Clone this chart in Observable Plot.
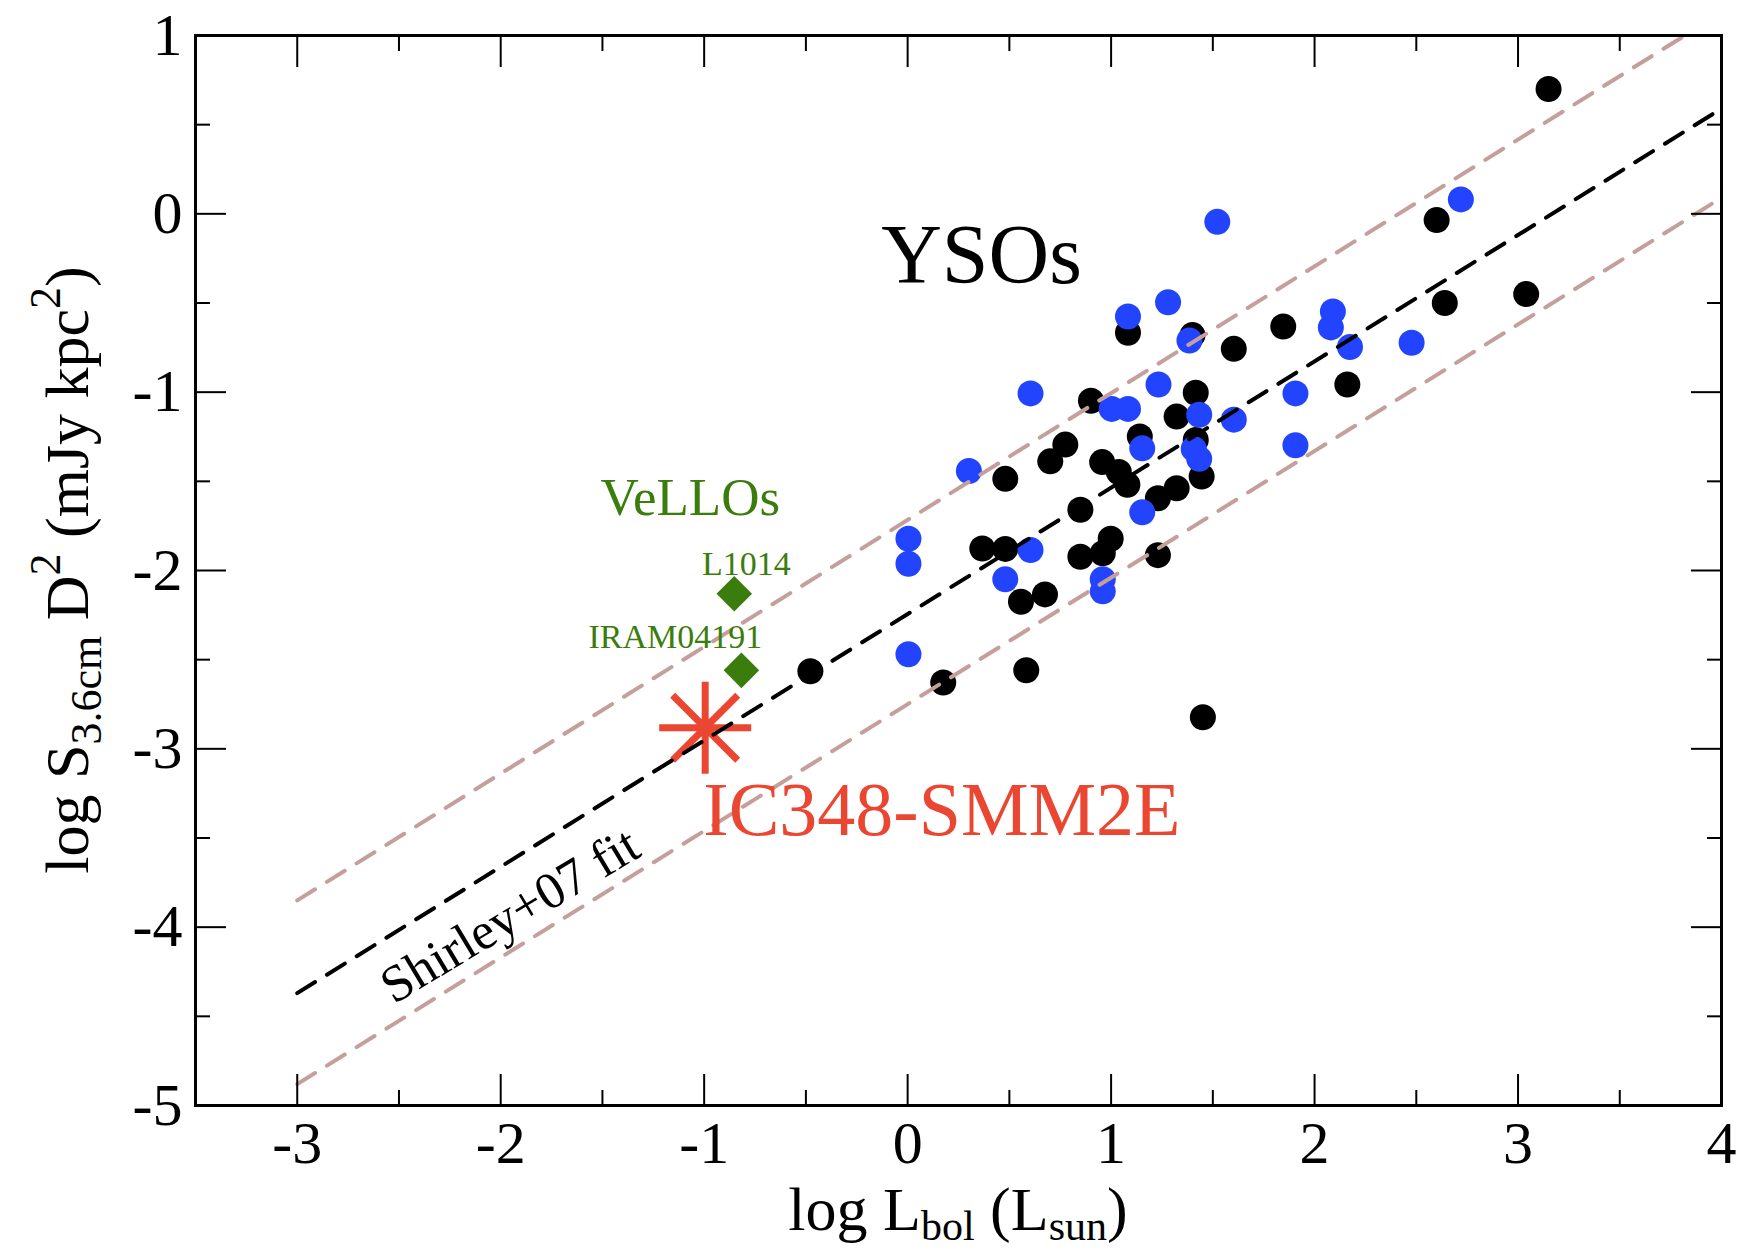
<!DOCTYPE html>
<html>
<head>
<meta charset="utf-8">
<script src="https://cdn.jsdelivr.net/npm/d3@7"></script>
<script src="https://cdn.jsdelivr.net/npm/@observablehq/plot@0.6"></script>
<style>
  html, body { margin: 0; padding: 0; background: #ffffff; }
  #chart svg { display: block; }
</style>
</head>
<body>
<div id="chart"></div>
<script>
// ---- axes ----
const xDomain = [-3.5, 4];
const yDomain = [-5, 1];
const xTicks = [-3, -2, -1, 0, 1, 2, 3, 4];
const xMinorTicks = [-2.5, -1.5, -0.5, 0.5, 1.5, 2.5, 3.5];
const yTicks = [-5, -4, -3, -2, -1, 0, 1];
const yMinorTicks = [-4.5, -3.5, -2.5, -1.5, -0.5, 0.5];

// ---- YSOs (black set) ----
const blackLogL = [3.15, 2.60, 2.64, 3.04, 1.846, 1.603, 1.083, 1.40, 2.161, 1.416, 0.901, 1.322,
  1.141, 1.416, 0.775, 0.701, 0.956, 1.038, 1.080, 0.480, 1.445, 1.322, 1.230, 0.849,
  0.367, 0.480, 0.998, 0.959, 0.849, 1.230, 0.557, 0.675, 0.583, 0.175, 1.451, -0.478];
const blackLogS = [0.70, -0.035, -0.50, -0.45, -0.632, -0.757, -0.667, -0.68, -0.957, -1.003, -1.048, -1.137,
  -1.248, -1.268, -1.294, -1.388, -1.392, -1.448, -1.519, -1.486, -1.473, -1.539, -1.595, -1.659,
  -1.877, -1.879, -1.822, -1.903, -1.923, -1.914, -2.175, -2.134, -2.559, -2.628, -2.823, -2.565];

// ---- YSOs (blue set) ----
const blueLogL = [1.522, 2.719, 1.280, 1.083, 1.385, 2.090, 2.080, 2.174, 2.477, 0.604, 1.233, 1.003,
  1.083, 1.906, 1.433, 1.603, 1.153, 1.406, 1.433, 1.906, 0.301, 1.153, 0.004, 0.004,
  0.604, 0.480, 0.959, 0.959, 0.004];
const blueLogS = [-0.045, 0.081, -0.496, -0.576, -0.71, -0.547, -0.637, -0.747, -0.723, -1.007, -0.957, -1.094,
  -1.094, -1.007, -1.127, -1.154, -1.315, -1.318, -1.374, -1.298, -1.442, -1.673, -1.822, -1.962,
  -1.885, -2.049, -2.049, -2.117, -2.47];

// ---- VeLLOs ----
const velloNames = ["L1014", "IRAM04191"];
const velloLogL = [-0.852, -0.817];
const velloLogS = [-2.13, -2.56];

// ---- IC348-SMM2E ----
const smmLogL = [-0.995];
const smmLogS = [-2.882];

// ---- Shirley+07 fit and its +/- scatter lines ----
const fitLogL = [-3, 4];
const fitLogS = [-4.37, 0.59];
const upperLogL = [-3, 3.82];
const upperLogS = [-3.85, 1];
const lowerLogL = [-3, 4];
const lowerLogS = [-4.88, 0.09];

// ---- annotation texts (data coordinates) ----
const labelYSO = [{text: "YSOs", x: 0.363, y: -0.386}];
const labelVello = [{text: "VeLLOs", x: -1.068, y: -1.691}];
const labelVelloNames = [
  {text: velloNames[0], x: -0.793, y: -2.028},
  {text: velloNames[1], x: -1.142, y: -2.437}
];
const labelSMM = [{text: "IC348-SMM2E", x: -1.004, y: -3.484}];
const labelFit = [{text: "Shirley+07 fit", x: -1.955, y: -3.935}];

const RED = "#ea4631";
const GREEN = "#3b7d0d";
const BLUE = "#2244ff";
const BROWN = "#c49f9c";
const SERIF = "'Liberation Serif', 'Times New Roman', Times, serif";

const asterisk8 = {
  draw(context, size) {
    const r = Math.sqrt(size / Math.PI);
    const d = r * Math.SQRT1_2;
    context.moveTo(-r, 0); context.lineTo(r, 0);
    context.moveTo(0, -r); context.lineTo(0, r);
    context.moveTo(-d, -d); context.lineTo(d, d);
    context.moveTo(-d, d); context.lineTo(d, -d);
  }
};

const fmt = d => String(d);

const chart = Plot.plot({
  width: 1739,
  height: 1254,
  marginLeft: 195,
  marginRight: 18,
  marginTop: 35,
  marginBottom: 149,
  x: {domain: xDomain},
  y: {domain: yDomain},
  style: {fontFamily: SERIF, background: "white", color: "black", overflow: "visible"},
  marks: [
    // points
    Plot.dot(blackLogL, {x: blackLogL, y: blackLogS, r: 13, fill: "black"}),
    Plot.dot(blueLogL, {x: blueLogL, y: blueLogS, r: 13, fill: BLUE}),
    Plot.dot(velloLogL, {x: velloLogL, y: velloLogS, r: 16, symbol: "diamond2", fill: GREEN}),
    Plot.dot(smmLogL, {x: smmLogL, y: smmLogS, r: 46, symbol: asterisk8, stroke: RED, strokeWidth: 7, fill: "none"}),
    // lines
    Plot.line(upperLogL, {x: upperLogL, y: upperLogS, stroke: BROWN, strokeWidth: 4, strokeDasharray: "21,14"}),
    Plot.line(lowerLogL, {x: lowerLogL, y: lowerLogS, stroke: BROWN, strokeWidth: 4, strokeDasharray: "21,14"}),
    Plot.line(fitLogL, {x: fitLogL, y: fitLogS, stroke: "black", strokeWidth: 4, strokeDasharray: "21,14"}),
    // annotations
    Plot.text(labelYSO, {x: "x", y: "y", text: "text", fontSize: 84, fill: "black", textAnchor: "middle", lineAnchor: "bottom"}),
    Plot.text(labelVello, {x: "x", y: "y", text: "text", fontSize: 53, fill: GREEN, textAnchor: "middle", lineAnchor: "bottom"}),
    Plot.text(labelVelloNames, {x: "x", y: "y", text: "text", fontSize: 34, fill: GREEN, textAnchor: "middle", lineAnchor: "bottom"}),
    Plot.text(labelSMM, {x: "x", y: "y", text: "text", fontSize: 76, fill: RED, textAnchor: "start", lineAnchor: "bottom"}),
    Plot.text(labelFit, {x: "x", y: "y", text: "text", fontSize: 52, fill: "black", textAnchor: "middle", lineAnchor: "middle", rotate: -31}),
    // inward ticks on all four sides
    Plot.axisX(xTicks, {anchor: "bottom", tickSize: -31, strokeWidth: 2, fill: "none", tickFormat: () => "", label: null}),
    Plot.axisX(xMinorTicks, {anchor: "bottom", tickSize: -15, strokeWidth: 2, fill: "none", tickFormat: () => "", label: null}),
    Plot.axisX(xTicks, {anchor: "top", tickSize: -31, strokeWidth: 2, fill: "none", tickFormat: () => "", label: null}),
    Plot.axisX(xMinorTicks, {anchor: "top", tickSize: -15, strokeWidth: 2, fill: "none", tickFormat: () => "", label: null}),
    Plot.axisY(yTicks, {anchor: "left", tickSize: -31, strokeWidth: 2, fill: "none", tickFormat: () => "", label: null}),
    Plot.axisY(yMinorTicks, {anchor: "left", tickSize: -15, strokeWidth: 2, fill: "none", tickFormat: () => "", label: null}),
    Plot.axisY(yTicks, {anchor: "right", tickSize: -31, strokeWidth: 2, fill: "none", tickFormat: () => "", label: null}),
    Plot.axisY(yMinorTicks, {anchor: "right", tickSize: -15, strokeWidth: 2, fill: "none", tickFormat: () => "", label: null}),
    // tick labels
    Plot.axisX(xTicks, {anchor: "bottom", tickSize: 0, tickPadding: 15, fontSize: 60, tickFormat: fmt, label: null}),
    Plot.axisY(yTicks, {anchor: "left", tickSize: 0, tickPadding: 13, fontSize: 60, tickFormat: fmt, label: null}),
    Plot.frame({stroke: "black", strokeWidth: 3})
  ]
});

document.getElementById("chart").appendChild(chart);

// ---- axis titles with sub/superscripts ----
const sx = chart.scale("x");
const sy = chart.scale("y");
const svg = d3.select(chart);
const xMid = (sx.apply(xDomain[0]) + sx.apply(xDomain[1])) / 2;
const yMid = (sy.apply(yDomain[0]) + sy.apply(yDomain[1])) / 2;

const xt = svg.append("text")
  .attr("x", xMid).attr("y", 1230)
  .attr("text-anchor", "middle")
  .attr("font-family", SERIF)
  .attr("font-size", 62)
  .attr("fill", "black");
xt.append("tspan").text("log L");
xt.append("tspan").attr("dy", 10).attr("font-size", 42).text("bol");
xt.append("tspan").attr("dy", -10).text(" (L");
xt.append("tspan").attr("dy", 10).attr("font-size", 42).text("sun");
xt.append("tspan").attr("dy", -10).text(")");

const yt = svg.append("text")
  .attr("transform", `translate(88,${yMid}) rotate(-90)`)
  .attr("text-anchor", "middle")
  .attr("font-family", SERIF)
  .attr("font-size", 62)
  .attr("fill", "black");
yt.append("tspan").text("log S");
yt.append("tspan").attr("dy", 13).attr("font-size", 44).text("3.6cm");
yt.append("tspan").attr("dy", -13).text(" D");
yt.append("tspan").attr("dy", -28).attr("font-size", 44).text("2");
yt.append("tspan").attr("dy", 28).text(" (mJy kpc");
yt.append("tspan").attr("dy", -28).attr("font-size", 44).text("2");
yt.append("tspan").attr("dy", 28).text(")");
</script>
</body>
</html>
